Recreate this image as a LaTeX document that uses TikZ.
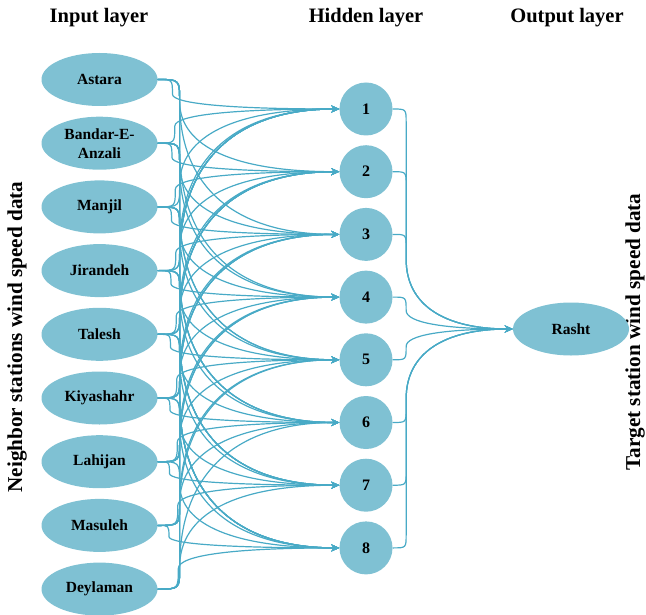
\documentclass[tikz,border=0pt]{standalone}
\usepackage{fontspec}
\setmainfont{Liberation Serif}
\usetikzlibrary{shapes.geometric,arrows.meta,calc}
\definecolor{nodefill}{RGB}{127,193,211}
\definecolor{wire}{RGB}{72,170,198}
\begin{document}
\begin{tikzpicture}[x=1bp,y=-1bp,
  station/.style={ellipse, fill=nodefill, minimum width=116bp, minimum height=53bp,
    inner sep=0pt, align=center, font=\fontsize{15.5bp}{19bp}\selectfont\bfseries},
  neuron/.style={circle, fill=nodefill, minimum size=53bp, inner sep=0pt,
    font=\fontsize{16bp}{19bp}\selectfont\bfseries},
  layertitle/.style={font=\fontsize{20.5bp}{24bp}\selectfont\bfseries},
  sidetitle/.style={rotate=90, font=\fontsize{21.2bp}{24bp}\selectfont\bfseries},
  conn/.style={draw=wire, line width=1.2bp, -{Stealth[length=8bp,width=7bp]}}]
\useasboundingbox (0,0) rectangle (646,615);

% layer titles
\node[layertitle] (tin) at (99,18) {Input layer};
\node[layertitle] (thid) at (366,18) {Hidden layer};
\node[layertitle] (tout) at (567,18) {Output layer};

% side captions
\node[sidetitle] (sidein) at (17,337) {Neighbor stations wind speed data};
\node[sidetitle] (sideout) at (635,332) {Target station wind speed data};

% input stations
\foreach \nm [count=\k from 0] in {Astara,{Bandar-E-\\Anzali},Manjil,Jirandeh,Talesh,Kiyashahr,Lahijan,Masuleh,Deylaman}
  \node[station] (in\k) at (99.5,{79.5+63.7*\k}) {\nm};

% hidden neurons
\foreach \k in {1,...,8}
  \node[neuron] (h\k) at (366,{109+62.7*(\k-1)}) {\k};

% output station
\node[station] (out) at (571,329) {Rasht};

% connector: bend into a vertical run, then a long sweep into the target
% #1 = first bend radius, #2 = largest sweep height, #3 = source, #4 = target
\newcommand{\bundlewire}[4]{%
  \draw[conn] let \p1=(#3), \p2=(#4),
      \n1={ifthenelse(\y2>\y1,1,-1)},
      \n2={min(#1,abs(\y2-\y1)/2)},
      \n3={min(#2,abs(\y2-\y1)-\n2)},
      \n4={\x1+\n2} in
    (\p1) .. controls (\n4*1pt,\y1) .. (\n4*1pt,\y1+\n1*\n2*1pt)
          -- (\n4*1pt,\y2-\n1*\n3*1pt)
          .. controls (\n4*1pt,\y2-\n1*0.35*\n3*1pt) and ({(\n4+0.35*(\x2-\n4))*1pt},\y2) .. (\p2);}

% input -> hidden
\foreach \a in {0,...,8}
  \foreach \b in {1,...,8}
    \bundlewire{22}{150}{in\a.east}{h\b.west};

% hidden -> output
\foreach \b in {1,...,8}
  \bundlewire{13.5}{70}{h\b.east}{out.west};
\end{tikzpicture}
\end{document}
